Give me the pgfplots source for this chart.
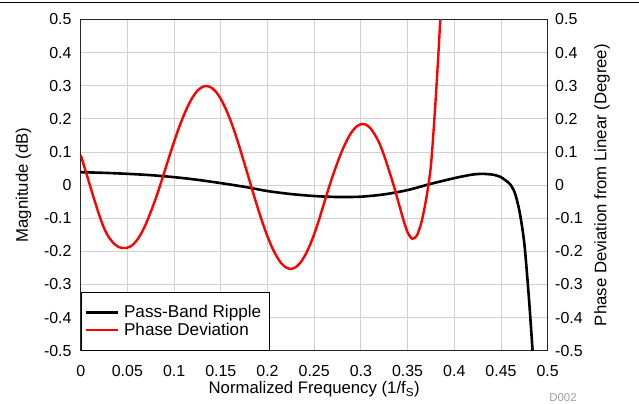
\documentclass[border=0pt]{standalone}
\usepackage{fontspec}
\setmainfont{Liberation Sans}
\usepackage{pgfplots}
\pgfplotsset{compat=1.18}

\pgfplotstableread{
x y
0 0.039
0.025 0.037
0.05 0.034
0.075 0.030
0.1 0.024
0.125 0.016
0.15 0.006
0.175 -0.005
0.2 -0.018
0.225 -0.027
0.25 -0.033
0.275 -0.036
0.3 -0.035
0.325 -0.028
0.35 -0.015
0.375 0.004
0.4 0.021
0.41 0.027
0.42 0.032
0.43 0.034
0.44 0.032
0.445 0.029
0.45 0.024
0.455 0.014
0.46 0.002
0.465 -0.025
0.47 -0.082
0.475 -0.177
0.48 -0.345
0.485 -0.55
}\ripple

\pgfplotstableread{
x y
0 0.091
0.005 0.045
0.010 -0.002
0.015 -0.048
0.020 -0.092
0.025 -0.130
0.030 -0.157
0.035 -0.175
0.040 -0.186
0.045 -0.190
0.050 -0.189
0.055 -0.182
0.060 -0.167
0.065 -0.145
0.070 -0.116
0.075 -0.081
0.080 -0.043
0.085 -0.001
0.090 0.043
0.095 0.088
0.100 0.131
0.105 0.172
0.110 0.208
0.115 0.240
0.120 0.266
0.125 0.285
0.130 0.296
0.135 0.299
0.140 0.294
0.145 0.281
0.150 0.260
0.155 0.232
0.160 0.198
0.165 0.159
0.170 0.115
0.175 0.068
0.180 0.021
0.185 -0.027
0.190 -0.073
0.195 -0.116
0.200 -0.155
0.205 -0.189
0.210 -0.216
0.215 -0.237
0.220 -0.249
0.225 -0.253
0.230 -0.248
0.235 -0.235
0.240 -0.213
0.245 -0.184
0.250 -0.148
0.255 -0.106
0.260 -0.060
0.265 -0.014
0.270 0.029
0.275 0.069
0.280 0.105
0.285 0.135
0.290 0.160
0.295 0.176
0.300 0.184
0.305 0.183
0.310 0.172
0.315 0.152
0.320 0.125
0.325 0.088
0.330 0.045
0.335 0.000
0.340 -0.050
0.345 -0.100
0.350 -0.143
0.355 -0.162
0.360 -0.152
0.365 -0.110
0.370 -0.040
0.375 0.060
0.380 0.257
0.385 0.500
0.390 0.800
}\phase

\begin{document}
\begin{tikzpicture}
\begin{axis}[
  at={(0,0)}, anchor=south west,
  width=467bp, height=331.2bp, scale only axis,
  xmin=0, xmax=0.5, ymin=-0.5, ymax=0.5,
  xtick={0,0.05,0.1,0.15,0.2,0.25,0.3,0.35,0.4,0.45,0.5},
  xticklabels={0,0.05,0.1,0.15,0.2,0.25,0.3,0.35,0.4,0.45,0.5},
  ytick={-0.5,-0.4,-0.3,-0.2,-0.1,0,0.1,0.2,0.3,0.4,0.5},
  yticklabels={-0.5,-0.4,-0.3,-0.2,-0.1,0,0.1,0.2,0.3,0.4,0.5},
  major tick length=0pt,
  grid=major, grid style={black!18, line width=0.9bp},
  axis line style={black!85, line width=1.1bp},
  tick label style={font=\fontsize{16}{19}\selectfont, inner sep=0pt},
  xticklabel style={anchor=base, yshift=-25.3bp},
  yticklabel style={anchor=east, xshift=-9bp},
  ylabel={Magnitude (dB)},
  xlabel={Normalized Frequency (1/f\textsubscript{S})},
  every axis y label/.style={at={(axis description cs:-0.1225,0.5)}, rotate=90, anchor=center, font=\fontsize{16.8}{19}\selectfont},
  every axis x label/.style={at={(axis description cs:0.5,-0.1307)}, anchor=base, font=\fontsize{16.8}{19}\selectfont},
  legend cell align=left,
  legend image code/.code={\draw[#1] (0bp,0bp) -- (32bp,0bp);},
  legend style={at={(0,0)}, anchor=south west, draw=black, line width=0.9bp, fill=white,
    inner xsep=3.5bp, inner ysep=11.5bp, row sep=0bp,
    nodes={inner xsep=4.8bp, inner ysep=1.8bp},
    font=\fontsize{17.2}{19}\selectfont},
]
\addplot[black, line width=2.6bp, smooth, tension=0.45] table[x=x,y=y] {\ripple};
\addlegendentry{Pass-Band Ripple}
\addplot[red, line width=2.4bp, smooth, tension=0.45] table[x=x,y=y] {\phase};
\addlegendentry{Phase Deviation}
\end{axis}
\begin{axis}[
  at={(0,0)}, anchor=south west,
  width=467bp, height=331.2bp, scale only axis,
  xmin=0, xmax=0.5, ymin=-0.5, ymax=0.5,
  axis x line=none, axis y line*=right,
  ytick={-0.5,-0.4,-0.3,-0.2,-0.1,0,0.1,0.2,0.3,0.4,0.5},
  yticklabels={-0.5,-0.4,-0.3,-0.2,-0.1,0,0.1,0.2,0.3,0.4,0.5},
  major tick length=0pt,
  axis line style={black!85, line width=1.1bp},
  tick label style={font=\fontsize{16}{19}\selectfont, inner sep=0pt},
  yticklabel style={anchor=west, xshift=7.3bp},
  ylabel={Phase Deviation from Linear (Degree)},
  every axis y label/.style={at={(axis description cs:1.1163,0.5)}, rotate=90, anchor=center, font=\fontsize{16.8}{19}\selectfont},
]
\end{axis}
\draw[black, line width=1.3bp] (-80.7bp,348.2bp) -- (558.3bp,348.2bp);
\node[text=black!38, font=\fontsize{11.5}{13}\selectfont, anchor=center] at (482.3bp,-46.8bp) {D002};
\pgfresetboundingbox
\path[use as bounding box] (-80.7bp,-53.3bp) rectangle (558.3bp,350.7bp);
\end{tikzpicture}
\end{document}
